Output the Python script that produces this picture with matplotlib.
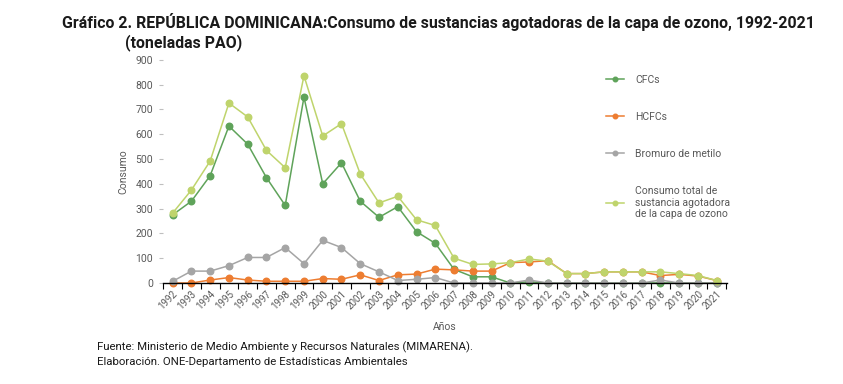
import numpy as np
import matplotlib.pyplot as plt

years = list(range(1992, 2022))

cfcs = [275, 330, 433, 633, 560, 425, 313, 750, 400, 485,
        330, 265, 308, 207, 160, 55, 25, 25, 0, 5,
        0, 0, 0, 0, 0, 0, 0, 0, 0, 0]
hcfcs = [0, 0, 12, 22, 12, 7, 7, 7, 18, 15,
         33, 10, 33, 36, 56, 53, 48, 48, 82, 85,
         90, 38, 38, 45, 45, 45, 30, 35, 28, 10]
bromuro = [7, 48, 48, 70, 103, 103, 143, 78, 172, 143,
           78, 45, 10, 15, 22, 0, 0, 0, 0, 12,
           0, 0, 0, 0, 0, 0, 12, 0, 0, 0]
total = [282, 375, 492, 726, 670, 535, 465, 836, 593, 643,
         440, 323, 350, 255, 232, 100, 75, 77, 82, 97,
         88, 38, 38, 45, 45, 45, 45, 38, 30, 10]

labels = ["CFCs", "HCFCs", "Bromuro de metilo",
          "Consumo total de\nsustancia agotadora\nde la capa de ozono"]
colors = ["#5fa35a", "#ed7d31", "#a5a5a5", "#bfd46c"]

plt.rcParams['font.family'] = ['Roboto', 'DejaVu Sans']

fig = plt.figure(figsize=(8.43, 3.84), dpi=100)
ax = fig.add_axes([0.193, 0.263, 0.669, 0.581])

for s, lab, c in zip([cfcs, hcfcs, bromuro, total], labels, colors):
    ax.plot(years, s, color=c, marker="o", markersize=4.7, linewidth=1.1,
            label=lab, clip_on=False)

ax.set_xlim(1991.47, 2021.53)
ax.set_ylim(0, 900)
ax.set_yticks(range(0, 901, 100))
ax.set_xticks(years)
ax.set_xticklabels([str(y) for y in years], rotation=45, ha="right",
                   rotation_mode="anchor", fontsize=7, color="#595959")
ax.set_xticks(np.arange(1991.5, 2022, 1), minor=True)
ax.tick_params(axis="x", which="major", length=0, pad=4)
ax.tick_params(axis="x", which="minor", length=4, color="black", width=0.8)
ax.tick_params(axis="y", labelsize=7.5, labelcolor="#595959", length=3,
               color="#bfbfbf", pad=4)
for sp in ["top", "right", "left"]:
    ax.spines[sp].set_visible(False)
ax.spines["bottom"].set_color("black")
ax.spines["bottom"].set_linewidth(1.0)

ax.set_ylabel("Consumo", fontsize=7.5, color="#595959", labelpad=5)
ax.set_xlabel("Años", fontsize=7.5, color="#595959", labelpad=8)

ax.legend(loc="upper left", bbox_to_anchor=(0.77, 0.975), frameon=False,
          fontsize=7.5, labelspacing=2.6, handlelength=1.7, markerscale=0.7,
          handletextpad=1.1, labelcolor="#595959")

fig.text(0.074, 0.965, "Gráfico 2. REPÚBLICA DOMINICANA:Consumo de sustancias agotadoras de la capa de ozono, 1992-2021",
         fontsize=11.4, fontweight="bold", color="#1a1a1a", va="top",
         family=["Liberation Sans Narrow", "Roboto", "DejaVu Sans"])
fig.text(0.148, 0.912, "(toneladas PAO)", fontsize=11.4, fontweight="bold",
         color="#1a1a1a", va="top",
         family=["Liberation Sans Narrow", "Roboto", "DejaVu Sans"])

fig.text(0.115, 0.096, "Fuente: Ministerio de Medio Ambiente y Recursos Naturales (MIMARENA).",
         fontsize=8.2, color="#1a1a1a", va="center")
fig.text(0.115, 0.057, "Elaboración. ONE-Departamento de Estadísticas Ambientales",
         fontsize=8.2, color="#1a1a1a", va="center")

fig.savefig("out.png", dpi=100)
